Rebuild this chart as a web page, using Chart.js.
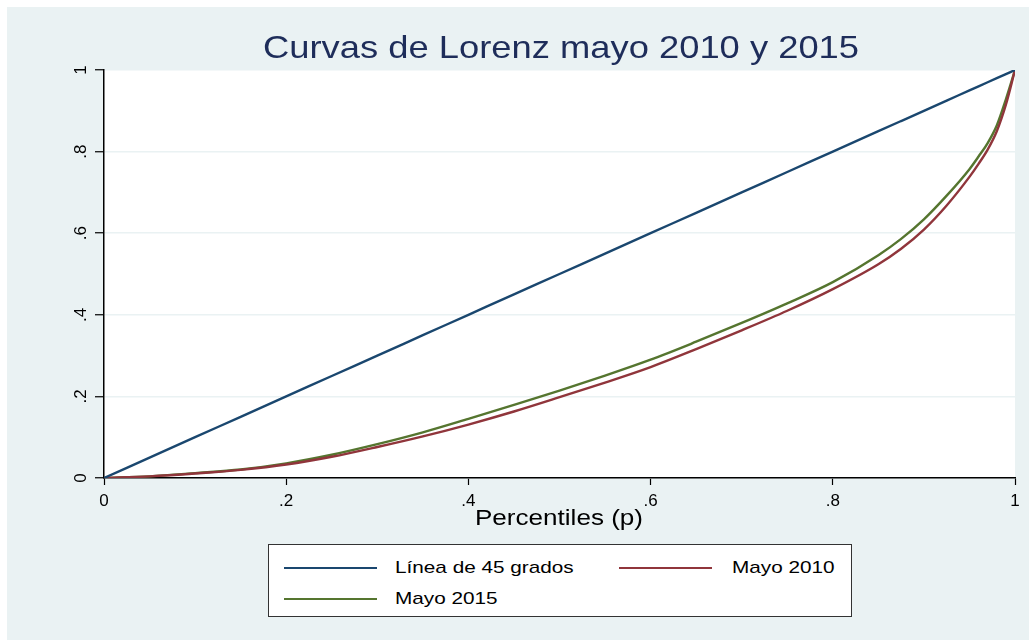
<!DOCTYPE html>
<html>
<head>
<meta charset="utf-8">
<script src="https://cdn.jsdelivr.net/npm/chart.js@4"></script>
<style>
    body { margin: 0; background: #ffffff; font-family: "Liberation Sans", Arial, sans-serif; }
    #wrap { position: relative; width: 1029px; height: 640px; overflow: hidden; }
    #bg { position: absolute; left: 7px; top: 7px; width: 1022px; height: 633px; background: #eaf2f3; }
    #chart { position: absolute; left: 0; top: 0; }
    #title { position: absolute; left: 0; width: 1122px; top: 29px; text-align: center;
             font-size: 32px; line-height: 36px; color: #1e2d5a; transform: scaleX(1.136); }
    #xtitle { position: absolute; left: 0; width: 1118px; top: 505px; text-align: center;
              font-size: 22px; line-height: 26px; color: #000; transform: scaleX(1.185); }
    #legend { position: absolute; left: 268px; top: 544px; width: 582px; height: 71px;
              background: #fff; border: 1px solid #333; }
    .item { position: absolute; font-size: 17px; line-height: 20px; color: #000; white-space: nowrap;
            transform: scaleX(1.22); transform-origin: left center; }
    .swatch { position: absolute; width: 93px; height: 2px; }
</style>
</head>
<body>
<div id="wrap">
    <div id="bg"></div>
    <canvas id="chart" width="1029" height="640"></canvas>
    <div id="title">Curvas de Lorenz mayo 2010 y 2015</div>
    <div id="xtitle">Percentiles (p)</div>
    <div id="legend"></div>
</div>
<script>
/* ============================================================
   DATA
============================================================ */
const percentiles = [0, 0.05, 0.1, 0.15, 0.2, 0.25, 0.3, 0.35, 0.4, 0.45, 0.5, 0.55, 0.6,
                     0.65, 0.7, 0.75, 0.8, 0.85, 0.875, 0.9, 0.925, 0.95, 0.96, 0.97, 0.98, 0.99, 1];
const linea45   = [0, 0.05, 0.1, 0.15, 0.2, 0.25, 0.3, 0.35, 0.4, 0.45, 0.5, 0.55, 0.6,
                   0.65, 0.7, 0.75, 0.8, 0.85, 0.875, 0.9, 0.925, 0.95, 0.96, 0.97, 0.98, 0.99, 1];
const mayo2010  = [0, 0.004, 0.011, 0.02, 0.033, 0.052, 0.076, 0.102, 0.131, 0.163, 0.198, 0.234, 0.272,
                   0.316, 0.362, 0.41, 0.463, 0.524, 0.562, 0.609, 0.668, 0.738, 0.77, 0.805, 0.85, 0.915, 1];
const mayo2015  = [0, 0.004, 0.012, 0.021, 0.036, 0.057, 0.083, 0.112, 0.145, 0.179, 0.214, 0.251, 0.29,
                   0.334, 0.38, 0.428, 0.48, 0.546, 0.586, 0.634, 0.692, 0.757, 0.788, 0.821, 0.864, 0.928, 1];

const tickValues = [0, 0.2, 0.4, 0.6, 0.8, 1];
const tickLabels = ["0", ".2", ".4", ".6", ".8", "1"];

const seriesNames  = ["Línea de 45 grados", "Mayo 2010", "Mayo 2015"];
const seriesColors = ["#1a476f", "#90353b", "#55752f"];

/* ============================================================
   Helper
============================================================ */
function toPoints(ys) {
    return percentiles.map((p, i) => ({ x: p, y: ys[i] }));
}

function fixedTicks(scale) {
    scale.ticks = tickValues.map(v => ({ value: v }));
}

/* ============================================================
   LEGEND (html box like the Stata one)
============================================================ */
const legendBox = document.getElementById("legend");
const legendPos = [[15, 23, 126], [350, 23, 463], [15, 54, 126]];

seriesNames.forEach((name, i) => {
    const [lx, ly, tx] = legendPos[i];
    legendBox.innerHTML += `
        <div class="swatch" style="left:${lx}px;top:${ly - 1}px;background:${seriesColors[i]}"></div>
        <div class="item" style="left:${tx}px;top:${ly - 10}px">${name}</div>`;
});

/* ============================================================
   CHART
============================================================ */
const whitePlot = {
    id: "whitePlot",
    beforeDraw(chart) {
        const a = chart.chartArea;
        const ctx = chart.ctx;
        ctx.save();
        ctx.fillStyle = "#ffffff";
        ctx.fillRect(a.left, a.top, a.right - a.left, a.bottom - a.top);
        ctx.restore();
    }
};

const tickFont = { family: "'Liberation Sans', Arial, sans-serif", size: 17 };

new Chart(document.getElementById("chart"), {
    type: "line",
    data: {
        datasets: [linea45, mayo2010, mayo2015].map((ys, i) => ({
            label: seriesNames[i],
            data: toPoints(ys),
            borderColor: seriesColors[i],
            borderWidth: 2.4,
            pointRadius: 0,
            cubicInterpolationMode: "monotone",
            fill: false
        }))
    },
    options: {
        responsive: false,
        animation: false,
        layout: { padding: { left: 0, top: 70, right: 14, bottom: 0 } },
        plugins: { legend: { display: false }, title: { display: false }, tooltip: { enabled: false } },
        scales: {
            x: {
                type: "linear",
                min: 0,
                max: 1,
                afterBuildTicks: fixedTicks,
                afterFit: s => { s.height = 162; },
                border: { color: "#000", width: 1.5 },
                grid: { drawOnChartArea: false, tickLength: 7, tickColor: "#000", tickWidth: 1.2 },
                ticks: {
                    color: "#000",
                    font: tickFont,
                    padding: 6,
                    maxRotation: 0,
                    callback: (v, i) => tickLabels[i]
                }
            },
            y: {
                type: "linear",
                min: 0,
                max: 1,
                afterBuildTicks: fixedTicks,
                afterFit: s => { s.width = 104; },
                border: { color: "#000", width: 1.5 },
                grid: { color: "#eaf2f3", lineWidth: 1.5, tickLength: 9, tickColor: "#000", tickWidth: 1.2 },
                ticks: {
                    color: "#000",
                    font: tickFont,
                    padding: 7,
                    minRotation: 90,
                    maxRotation: 90,
                    crossAlign: "center",
                    callback: (v, i) => tickLabels[i]
                }
            }
        }
    },
    plugins: [whitePlot]
});
</script>
</body>
</html>
